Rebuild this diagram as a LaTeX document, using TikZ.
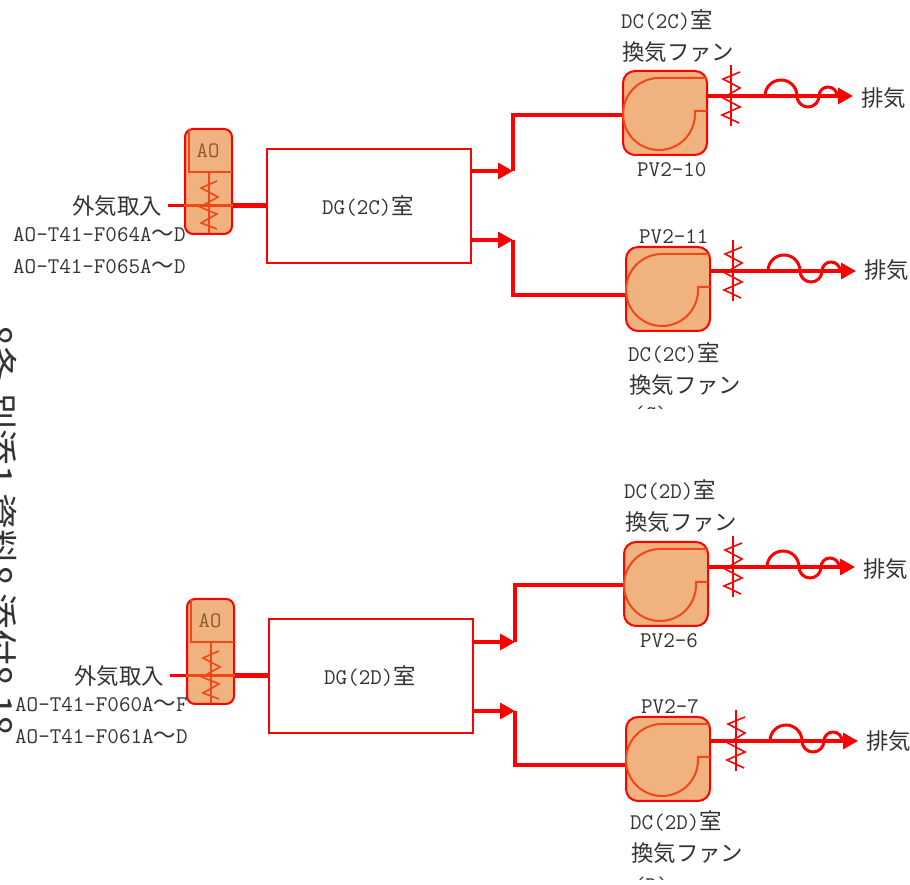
\documentclass[tikz,border=0pt]{standalone}
\usepackage{xcolor}
\usepackage{fontspec}
\usetikzlibrary{arrows.meta}
\newfontfamily\cjk{Noto Sans CJK JP}
\definecolor{pipered}{HTML}{FF0000}
\definecolor{fanfill}{HTML}{F0B27E}
\definecolor{voluteline}{HTML}{F0481A}
\definecolor{labelgray}{HTML}{333333}
\definecolor{aobrown}{HTML}{8A5A30}
\tikzset{
  lab/.style={inner sep=0pt, text=labelgray, font=\fontsize{22.4}{22.4}\selectfont\ttfamily},
  kana/.style={inner sep=0pt, text=labelgray, font=\fontsize{22.4}{22.4}\selectfont\cjk},
  roombox/.style={draw=pipered, line width=1.6pt, fill=white, minimum width=204pt, minimum height=114pt, inner sep=0pt},
  fanbox/.style={draw=pipered, line width=2pt, fill=fanfill, rounded corners=12pt, minimum size=84pt, inner sep=0pt},
  aobox/.style={draw=pipered, line width=2pt, fill=fanfill, rounded corners=8pt, minimum width=47pt, minimum height=105pt, inner sep=0pt},
  pipe/.style={pipered, line width=3.2pt},
  thinzig/.style={pipered, line width=1.6pt},
  flowtip/.style={-{Triangle[length=15pt,width=16pt]}},
}
\begin{document}
\begin{tikzpicture}[x=1pt, y=1pt]
    \useasboundingbox (0,0) rectangle (910,885);
    % side text, cut by the page edge
    \node[kana, rotate=-90, anchor=west, font=\fontsize{36}{36}\selectfont\cjk] (sidetext) at (0,560)
      {8条-別添1 資料8 添付8.18};
    % two rooms: name / dx / dy / lists
    \foreach \tg/\dx/\dy/\room/\ain/\aend/\bin/\bend in {C/0/0/DG(2C)/F064A/D/F065A/D, D/2/-470/DG(2D)/F060A/F/F061A/D}{
      \begin{scope}[shift={(\dx,\dy)}]
        \node[roombox] (room\tg) at (369,679) {};
        \node[lab] (roomtext\tg) at (368,679) {\room{\cjk 室}};
        \node[aobox] (ao\tg) at (208.5,703.5) {};
        \draw[voluteline, line width=1.6pt] (189,756) -- (189,713) -- (232,713);
        \node[inner sep=0pt, text=aobrown, font=\fontsize{22}{22}\selectfont\ttfamily] (aotext\tg) at (208,734) {AO};
        \coordinate (aostem\tg) at (209,713);
        \draw[voluteline, line width=1.6pt] (aostem\tg) -- (209,652);
        \draw[voluteline, line width=1.6pt] (217,704) -- (201,697) -- (218,688) -- (200,678) -- (217,671) -- (201,662) -- (217,656);
        \coordinate (inlet\tg) at (168,679);
        \draw[pipered, line width=3pt] (inlet\tg) -- (ao\tg.west |- inlet\tg);
        \draw[voluteline, line width=3pt] (ao\tg.west |- inlet\tg) -- (ao\tg.east |- inlet\tg);
        \draw[pipered, line width=5pt] (ao\tg.east |- inlet\tg) -- (room\tg.west |- inlet\tg);
        \node[kana, anchor=east] (intake\tg) at (162,679) {外気取入};
        \node[lab, anchor=west] (tagA\tg) at (13,650) {AO-T41-\ain{\cjk 〜}\aend};
        \node[lab, anchor=west] (tagB\tg) at (13,618) {AO-T41-\bin{\cjk 〜}\bend};
      \end{scope}
    }
    % fan units: name / centre / outlet y / damper x / tip x / tags
    \foreach \tg/\cx/\cy/\iny/\oy/\dpx/\tip/\exy/\pv/\pvx/\pvy/\nm/\nmx/\nmy in {
      a/665/772/770/789/731/853/787/PV2-10/637/715/DC(2C)/621/865,
      b/668/596/590/614/733/856/615/PV2-11/639/648/DC(2C)/628/532,
      c/666/301/300/318/733/855/316/PV2-6/640/244/DC(2D)/624/395,
      d/668/126/120/144/736/858/144/PV2-7/641/178/DC(2D)/630/64}{
      \node[fanbox] (fan\tg) at (\cx,\cy) {};
      \begin{scope}[shift={(\cx,\cy)}]
        \draw[voluteline, line width=2pt] (42,35) -- (-6,35) arc (90:360:36) -- (30,2) -- (42,2);
      \end{scope}
      \coordinate (fanin\tg) at (fan\tg.west |- 0,\iny);
      \coordinate (fanout\tg) at (fan\tg.east |- 0,\oy);
      % damper
      \coordinate (damptop\tg) at (\dpx,\oy+31);
      \coordinate (dampbot\tg) at (\dpx,\oy-30);
      \draw[pipered, line width=2pt] (damptop\tg) -- (dampbot\tg);
      \draw[thinzig, shift={(\dpx,\oy)}] (9,24) -- (-8,17) -- (9,8) -- (-8,-2) -- (9,-11) -- (-9,-19) -- (8,-27);
      % outlet and silencer
      \coordinate (outtip\tg) at (\tip,\oy);
      \draw[pipe, flowtip] (fanout\tg) -- (outtip\tg);
      \draw[pipered, line width=3pt, shift={(\tip-88,\oy)}] (0,0) arc (180:0:16) arc (180:360:11) arc (180:0:9);
      \node[kana, anchor=west] (exh\tg) at (\tip+8,\exy) {排気};
      \node[lab, anchor=west] (pv\tg) at (\pvx,\pvy) {\pv};
      \node[lab, anchor=west] (nm\tg) at (\nmx,\nmy) {\nm{\cjk 室}};
      \node[kana, anchor=west] (fanname\tg) at (\nmx+1,\nmy-32) {換気ファン};
    }
    % third line of the lower names, only its top shows
    \begin{scope}
      \clip (620,476) rectangle (760,500);
      \node[lab, anchor=north west] (suffixb) at (633,479) {(C)};
    \end{scope}
    \begin{scope}
      \clip (620,5) rectangle (760,20);
      \node[lab, anchor=north west] (suffixd) at (634,8) {(D)};
    \end{scope}
    % pipes from the rooms to the fans
    \foreach \tg/\upf/\lof/\vx/\uy/\ly in {C/a/b/513/714/645, D/c/d/515/243/174}{
      \coordinate (bendu\tg) at (\vx,\uy);
      \coordinate (bendl\tg) at (\vx,\ly);
      \draw[pipe, flowtip] (room\tg.east |- bendu\tg) -- (bendu\tg);
      \draw[pipe, flowtip] (room\tg.east |- bendl\tg) -- (bendl\tg);
      \draw[pipe, line join=miter] (bendu\tg) -- (bendu\tg |- fanin\upf) -- (fanin\upf);
      \draw[pipe, line join=miter] (bendl\tg) -- (bendl\tg |- fanin\lof) -- (fanin\lof);
    }
  \end{tikzpicture}
\end{document}
